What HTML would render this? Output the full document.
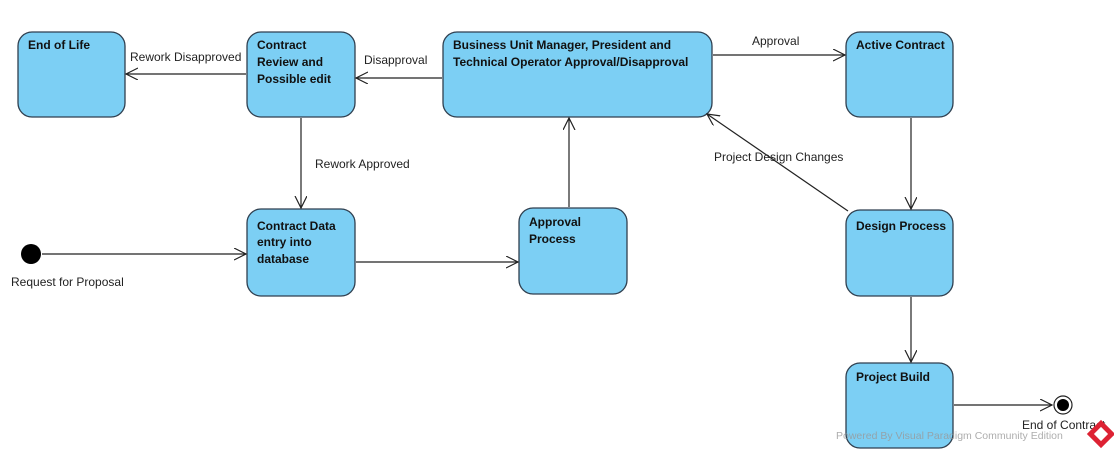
<!DOCTYPE html>
<html><head><style>body{margin:0;background:#fff}svg{display:block}</style></head><body>
<svg width="1114" height="456" xmlns="http://www.w3.org/2000/svg" font-family="Liberation Sans, sans-serif">
<defs><marker id="a" markerWidth="14" markerHeight="14" refX="12" refY="6" orient="auto" markerUnits="userSpaceOnUse"><path d="M0,0 L12,6 L0,12" fill="none" stroke="#222" stroke-width="1.2"/></marker></defs>
<g fill="#7ccff4" stroke="#2f3f4f" stroke-width="1.3">
<rect x="18" y="32" width="107" height="85" rx="14"/>
<rect x="247" y="32" width="108" height="85" rx="14"/>
<rect x="443" y="32" width="269" height="85" rx="14"/>
<rect x="846" y="32" width="107" height="85" rx="14"/>
<rect x="247" y="209" width="108" height="87" rx="14"/>
<rect x="519" y="208" width="108" height="86" rx="14"/>
<rect x="846" y="210" width="107" height="86" rx="14"/>
<rect x="846" y="363" width="107" height="85" rx="14"/>
</g>
<g font-size="12" font-weight="bold" fill="#111">
<text x="28" y="49">End of Life</text>
<text x="257" y="49">Contract</text><text x="257" y="66">Review and</text><text x="257" y="83">Possible edit</text>
<text x="453" y="49">Business Unit Manager, President and</text><text x="453" y="66">Technical Operator Approval/Disapproval</text>
<text x="856" y="49">Active Contract</text>
<text x="257" y="230">Contract Data</text><text x="257" y="246">entry into</text><text x="257" y="263">database</text>
<text x="529" y="226">Approval</text><text x="529" y="243">Process</text>
<text x="856" y="230">Design Process</text>
<text x="856" y="381">Project Build</text>
</g>
<g stroke="#222" stroke-width="1.2" fill="none" marker-end="url(#a)">
<line x1="246" y1="74" x2="126" y2="74"/>
<line x1="442" y1="78" x2="356" y2="78"/>
<line x1="713" y1="55" x2="845" y2="55"/>
<line x1="301" y1="118" x2="301" y2="208"/>
<line x1="42" y1="254" x2="246" y2="254"/>
<line x1="356" y1="262" x2="518" y2="262"/>
<line x1="569" y1="207" x2="569" y2="118"/>
<line x1="911" y1="118" x2="911" y2="209"/>
<line x1="848" y1="211" x2="707" y2="114"/>
<line x1="911" y1="297" x2="911" y2="362"/>
<line x1="954" y1="405" x2="1052" y2="405"/>
</g>
<circle cx="31" cy="254" r="10" fill="#000"/>
<circle cx="1063" cy="405" r="9" fill="#fff" stroke="#222" stroke-width="1.2"/>
<circle cx="1063" cy="405" r="6" fill="#000"/>
<g font-size="12" fill="#222">
<text x="130" y="61">Rework Disapproved</text>
<text x="364" y="64">Disapproval</text>
<text x="752" y="45">Approval</text>
<text x="315" y="168">Rework Approved</text>
<text x="714" y="161">Project Design  Changes</text>
<text x="11" y="286">Request for Proposal</text>
<text x="1022" y="429">End of Contract</text>
</g>
<text x="836" y="439" font-size="10.5" fill="#999" opacity="0.8">Powered By  Visual Paradigm Community Edition</text>
<g transform="translate(1101,434) rotate(45)"><rect x="-10" y="-10" width="20" height="20" fill="#d23" /><rect x="-5" y="-5" width="10" height="10" fill="#fff"/></g>
</svg>
</body></html>
